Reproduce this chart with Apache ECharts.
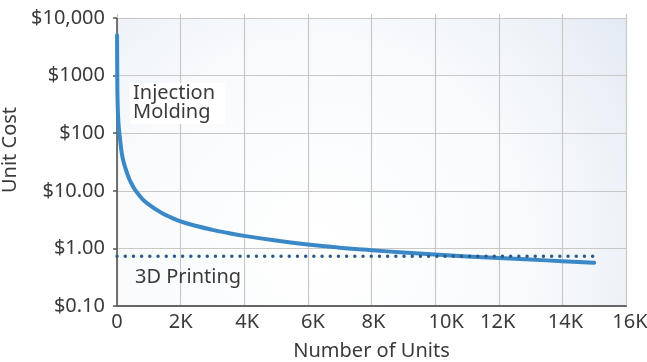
<!DOCTYPE html>
<html>
<head>
<meta charset="utf-8">
<script src="https://cdn.jsdelivr.net/npm/echarts@6/dist/echarts.min.js"></script>
<style>
html,body{margin:0;padding:0;background:#fff;}
#chart{width:647px;height:362px;}
</style>
</head>
<body>
<div id="chart"></div>
<script>
// ---- data ----
const moldingUnits = [1, 10, 25, 50, 100, 150, 200, 273, 350, 450, 600, 800, 1000, 1350, 1600, 2000, 2500, 3000, 3500, 4000, 5000, 6000, 7000, 8000, 9000, 10000, 11000, 12000, 13000, 14000, 15000];
const moldingCost  = [5000, 650, 260, 140, 75, 45, 33, 24, 18, 13.5, 9.8, 7.2, 5.8, 4.3, 3.65, 2.95, 2.45, 2.1, 1.85, 1.65, 1.37, 1.17, 1.03, 0.93, 0.85, 0.78, 0.725, 0.68, 0.64, 0.6, 0.565];
const printingUnits = [0, 15000];
const printingCost  = [0.73, 0.73];
const yTickValues = [0.1, 1, 10, 100, 1000, 10000];
const yTickLabels = ['$0.10', '$1.00', '$10.00', '$100', '$1000', '$10,000'];
const xTickValues = [0, 2000, 4000, 6000, 8000, 10000, 12000, 14000, 16000];
const xTickLabels = ['0', '2K', '4K', '6K', '8K', '10K', '12K', '14K', '16K'];
const xTickShift  = [0, 0, 3, 5, 2, 11, -1, 3, 4];
const seriesNames = ['Injection Molding', '3D Printing'];

const FONT = '"Noto Sans", "Open Sans", sans-serif';
const TXT = '#3a3a3a';
const FS = 20;

const richX = {};
xTickLabels.forEach((l, i) => {
  const s = xTickShift[i];
  richX['k' + i] = {
    fontFamily: FONT, fontSize: FS, color: TXT,
    padding: s >= 0 ? [0, 0, 0, 2 * s] : [0, -2 * s, 0, 0]
  };
});

const chart = echarts.init(document.getElementById('chart'), null, {renderer: 'canvas'});
chart.setOption({
  animation: false,
  backgroundColor: '#ffffff',
  grid: {
    left: 117, right: 21, top: 18, bottom: 56,
    outerBoundsMode: 'none', containLabel: false,
    show: true, borderWidth: 0,
    backgroundColor: {
      type: 'radial', x: 0.4, y: 0.8, r: 1.32,
      colorStops: [
        {offset: 0, color: '#ffffff'},
        {offset: 0.55, color: '#f8fafc'},
        {offset: 0.81, color: '#eef2f8'},
        {offset: 1, color: '#e3eaf4'}
      ]
    }
  },
  xAxis: [{
    type: 'value', min: 0, max: 16000, interval: 2000,
    name: 'Number of Units', nameLocation: 'middle', nameGap: 35,
    nameTextStyle: {fontFamily: FONT, fontSize: FS, color: TXT},
    axisLine: {show: true, lineStyle: {color: '#666', width: 2}},
    axisTick: {show: false},
    axisLabel: {
      margin: 6,
      formatter: v => { const i = xTickValues.indexOf(v); return i < 0 ? '' : '{k' + i + '|' + xTickLabels[i] + '}'; },
      rich: richX
    },
    splitLine: {show: true, lineStyle: {color: '#c8c8c8', width: 1.2}}
  }, {
    type: 'value', min: 0, max: 16000, interval: 2000, position: 'top',
    axisLine: {show: false},
    axisTick: {show: true, length: 4, lineStyle: {color: '#c8c8c8', width: 1.2}},
    axisLabel: {show: false},
    splitLine: {show: false}
  }],
  yAxis: {
    type: 'log', logBase: 10, min: 0.1, max: 10000, splitNumber: 5,
    name: 'Unit Cost', nameLocation: 'middle', nameGap: 88,
    nameTextStyle: {fontFamily: FONT, fontSize: FS, color: TXT, padding: [0, 0, 0, 24]},
    axisLine: {show: true, lineStyle: {color: '#555', width: 1.6}},
    axisTick: {show: true, length: 4, lineStyle: {color: '#555', width: 1.5}},
    axisLabel: {
      margin: 12, fontFamily: FONT, fontSize: FS, color: TXT,
      formatter: v => {
        let best = 0, d = Infinity;
        yTickValues.forEach((t, i) => { const dd = Math.abs(Math.log10(t) - Math.log10(v)); if (dd < d) { d = dd; best = i; } });
        return d < 1e-6 ? yTickLabels[best] : '';
      }
    },
    splitLine: {show: true, lineStyle: {color: '#c8c8c8', width: 1.2}}
  },
  series: [{
    name: seriesNames[0], type: 'line',
    data: moldingUnits.map((u, i) => [u, moldingCost[i]]),
    showSymbol: false, smooth: true,
    lineStyle: {color: '#3b88c6', width: 4, cap: 'round', join: 'round'},
    z: 3
  }, {
    name: seriesNames[1], type: 'line',
    data: printingUnits.map((u, i) => [u, printingCost[i]]),
    showSymbol: false,
    lineStyle: {color: '#2d5a86', width: 3.4, type: [0.1, 8.1], cap: 'round'},
    z: 4
  }],
  graphic: [{
    type: 'text', left: 130, top: 83, z: 10,
    style: {
      text: 'Injection\nMolding', font: FS + 'px ' + FONT, fill: TXT,
      lineHeight: 19, backgroundColor: '#ffffff', padding: [1, 10, 2, 3]
    }
  }, {
    type: 'text', left: 135, top: 267, z: 10,
    style: {text: '3D Printing', font: FS + 'px ' + FONT, fill: TXT, lineHeight: 20}
  }]
});
</script>
</body>
</html>
